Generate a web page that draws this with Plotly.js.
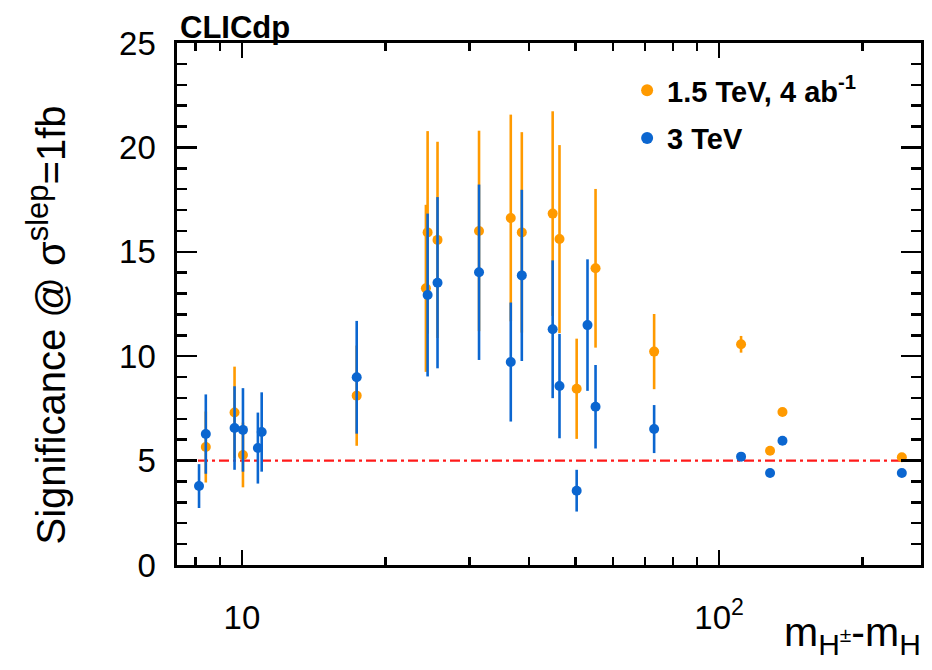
<!DOCTYPE html>
<html>
<head>
<meta charset="utf-8">
<script src="https://cdn.plot.ly/plotly-3.0.1.min.js"></script>
<style>html,body{margin:0;padding:0;background:#fff;}#chart{width:932px;height:670px;}</style>
</head>
<body>
<div id="chart"></div>
<script>
// 1.5 TeV, 4 ab^-1 benchmark points
const x15 = [8.40, 9.65, 10.05, 17.4, 24.5, 24.3, 25.7, 31.4, 36.6, 38.6, 44.8, 46.3, 50.3, 55.1, 73.1, 111.2, 127.9, 135.8, 241.6];
const y15 = [5.65, 7.30, 5.27, 8.11, 15.93, 13.25, 15.57, 16.0, 16.62, 15.93, 16.83, 15.61, 8.44, 14.21, 10.22, 10.57, 5.47, 7.33, 5.16];
const e15 = [1.7, 2.2, 1.55, 2.4, 4.85, 4.0, 4.7, 4.8, 4.95, 4.8, 4.9, 4.5, 2.4, 3.8, 1.8, 0.4, 0, 0, 0];

// 3 TeV benchmark points
const x3 = [8.13, 8.40, 9.65, 10.05, 10.8, 11.0, 17.4, 24.5, 25.7, 31.4, 36.6, 38.6, 44.8, 46.3, 50.3, 53.0, 55.1, 73.1, 111.2, 127.9, 135.8, 241.6];
const y3 = [3.78, 6.27, 6.56, 6.47, 5.6, 6.37, 8.99, 12.93, 13.52, 14.02, 9.72, 13.87, 11.29, 8.57, 3.56, 11.49, 7.58, 6.51, 5.19, 4.41, 5.95, 4.41];
const e3 = [1.05, 1.9, 2.0, 2.0, 1.7, 1.9, 2.7, 3.9, 4.1, 4.2, 2.85, 4.1, 3.3, 2.5, 1.0, 3.15, 2.0, 1.15, 0, 0, 0, 0];

const seriesNames = ['<b>1.5 TeV, 4 ab<sup>-1</sup></b>', '<b>3 TeV</b>'];
const xTickVals = [10, 100];
const xTickText = ['10', '10<sup>2</sup>'];
const xMinorVals = [8, 9, 20, 30, 40, 50, 60, 70, 80, 90, 200];
const yTickVals = [0, 5, 10, 15, 20, 25];
const threshold = 5;

const orange = '#ff9a00';
const blue = '#0b66d0';
const font = 'Liberation Sans, Arial, Helvetica, sans-serif';

const traces = [
  {
    x: x15, y: y15, type: 'scatter', mode: 'markers', name: seriesNames[0], legendgroup: 'a',
    marker: {color: orange, size: 10},
    error_y: {type: 'data', array: e15, visible: true, color: orange, thickness: 2.6, width: 0}
  },
  {
    x: x3, y: y3, type: 'scatter', mode: 'markers', name: seriesNames[1], legendgroup: 'b',
    marker: {color: blue, size: 10},
    error_y: {type: 'data', array: e3, visible: true, color: blue, thickness: 2.6, width: 0}
  }
];

const layout = {
  width: 932, height: 670,
  margin: {l: 177, r: 11, t: 43, b: 105},
  paper_bgcolor: '#fff', plot_bgcolor: '#fff',
  font: {family: font, color: '#000'},
  showlegend: true,
  legend: {
    x: 0.605, y: 0.958, xanchor: 'left', yanchor: 'top',
    bgcolor: 'rgba(0,0,0,0)', borderwidth: 0,
    font: {family: font, size: 29, color: '#000'},
    itemsizing: 'constant', traceorder: 'grouped', tracegroupgap: 7
  },
  xaxis: {
    type: 'log',
    range: [Math.log10(7.31), Math.log10(265)],
    tickmode: 'array', tickvals: xTickVals, ticktext: xTickText,
    ticks: 'inside', ticklen: 15, tickwidth: 2.5, tickcolor: '#000',
    minor: {tickmode: 'array', tickvals: xMinorVals, ticks: 'inside', ticklen: 8, tickwidth: 2.5, tickcolor: '#000', showgrid: false},
    showline: true, linecolor: '#000', linewidth: 2.6, mirror: 'allticks',
    showgrid: false, zeroline: false,
    tickfont: {family: font, size: 33, color: '#000'},
    ticklabelstandoff: 22
  },
  yaxis: {
    range: [0, 25],
    tickmode: 'array', tickvals: yTickVals,
    ticks: 'inside', ticklen: 20, tickwidth: 2.5, tickcolor: '#000',
    minor: {dtick: 1, tick0: 0, ticks: 'inside', ticklen: 10, tickwidth: 2.5, tickcolor: '#000', showgrid: false},
    showline: true, linecolor: '#000', linewidth: 2.6, mirror: 'allticks',
    showgrid: false, zeroline: false,
    tickfont: {family: font, size: 33, color: '#000'},
    ticklabelstandoff: 12
  },
  shapes: [{
    type: 'line', xref: 'paper', yref: 'y', x0: 0, x1: 1, y0: threshold, y1: threshold,
    line: {color: '#ff1a1a', width: 2.2, dash: '10px,4px,3px,4px'},
    layer: 'below'
  }],
  annotations: [
    {
      text: '<b>CLICdp</b>', xref: 'paper', yref: 'paper', x: 0, y: 1,
      xanchor: 'left', yanchor: 'bottom', xshift: 1, yshift: -4, showarrow: false,
      font: {family: font, size: 31, color: '#000'}
    },
    {
      text: 'Significance @ σ<sup><span style="font-size:31px">slep</span></sup>=1fb', xref: 'paper', yref: 'paper', x: 0, y: 0,
      xanchor: 'center', yanchor: 'bottom', xshift: -130, yshift: 18, textangle: -90, showarrow: false,
      font: {family: font, size: 40, color: '#000'}
    },
    {
      text: 'm<sub><span style="font-size:30px">H<sup>±</sup></span></sub>-m<sub><span style="font-size:30px">H</span></sub>', xref: 'paper', yref: 'paper', x: 1, y: 0,
      xanchor: 'right', yanchor: 'top', xshift: 2, yshift: -42, showarrow: false,
      font: {family: font, size: 41, color: '#000'}
    }
  ]
};

Plotly.newPlot('chart', traces, layout, {displayModeBar: false, staticPlot: true});
</script>
</body>
</html>
